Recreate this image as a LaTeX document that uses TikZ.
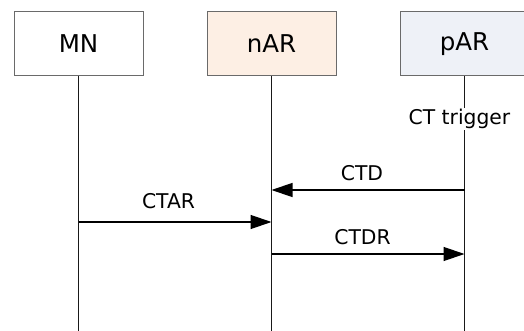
\documentclass[tikz,border=0pt]{standalone}
\usepackage{fontspec}
\setmainfont{DejaVu Sans}
\usetikzlibrary{arrows.meta}
\definecolor{boxline}{HTML}{6A6A6A}
\definecolor{peach}{HTML}{FDEFE4}
\definecolor{paleblue}{HTML}{EEF1F7}
\tikzset{
  entity/.style={draw=boxline, line width=1pt, minimum width=129pt, minimum height=64pt,
    inner sep=0pt, font=\fontsize{24.5}{29}\selectfont},
  lifeline/.style={line width=1.3pt, draw=black!90},
  msg/.style={line width=1.3pt, -{Triangle[length=21pt,width=14pt]}},
  msglabel/.style={font=\fontsize{20.3}{24}\selectfont, inner sep=0pt},
}
\begin{document}
\begin{tikzpicture}[x=1pt,y=-1pt]
  \useasboundingbox (0,0) rectangle (524,331);
  \begin{scope}
    \clip (0,0) rectangle (524,331);
    % participants
    \node[entity, fill=white]     (mn)  at (78.5,44)  {MN};
    \node[entity, fill=peach]     (nar) at (271.5,44) {nAR};
    \node[entity, fill=paleblue]  (par) at (464.5,44) {pAR};
  \end{scope}
  % lifeline ends
  \coordinate (mnEnd)  at (78.5,331);
  \coordinate (narEnd) at (271.5,331);
  \coordinate (parEnd) at (464.5,331);
  \draw[lifeline] (mn.south)  -- (mnEnd);
  \draw[lifeline] (nar.south) -- (narEnd);
  \draw[lifeline] (par.south) -- (parEnd);
  % trigger note on the pAR lifeline
  \node[msglabel, fill=white, inner sep=1pt] (trig) at (459.5,119) {CT trigger};
  % message end points
  \coordinate (ctdFrom)  at (464.5,190);
  \coordinate (ctdTo)    at (271.5,190);
  \coordinate (ctarFrom) at (78.5,222);
  \coordinate (ctarTo)   at (271.5,222);
  \coordinate (ctdrFrom) at (271.5,254);
  \coordinate (ctdrTo)   at (464.5,254);
  % messages
  \draw[msg] (ctdFrom) -- (ctdTo);
  \node[msglabel] (ctdL) at (362,173) {CTD};
  \draw[msg] (ctarFrom) -- (ctarTo);
  \node[msglabel] (ctarL) at (168.5,201.5) {CTAR};
  \draw[msg] (ctdrFrom) -- (ctdrTo);
  \node[msglabel] (ctdrL) at (362.5,237) {CTDR};
\end{tikzpicture}
\end{document}
